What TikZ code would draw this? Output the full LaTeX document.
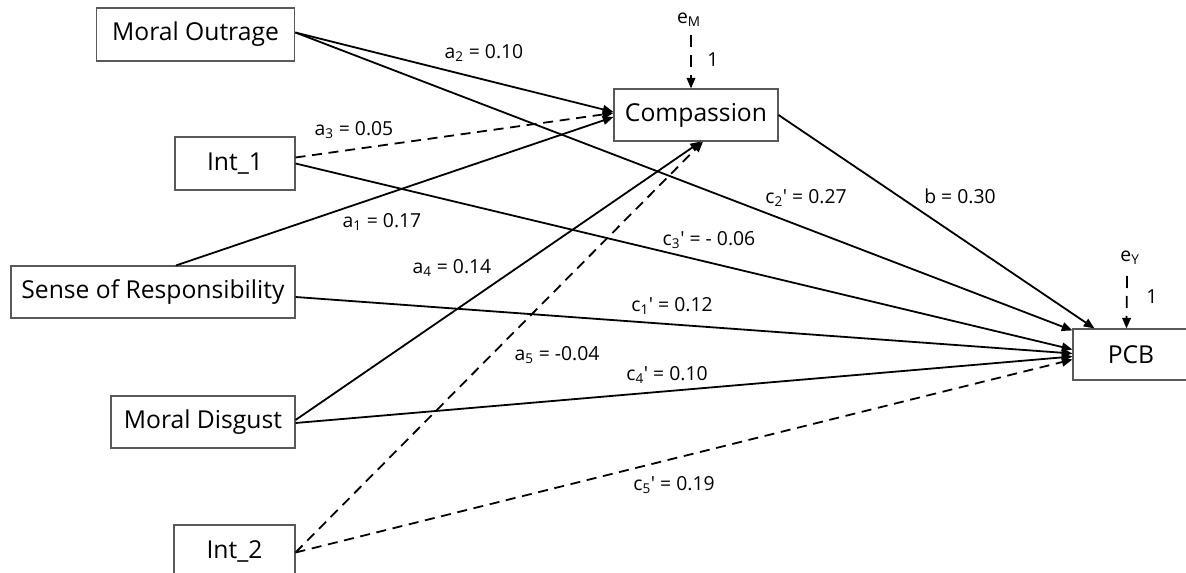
\documentclass[tikz,border=0pt]{standalone}
\usepackage{fontspec}
\setmainfont{Open Sans}[Ligatures=TeXOff]
\usetikzlibrary{arrows.meta,calc}
\tikzset{
  var/.style={draw=black!65, line width=0.8pt, fill=white, inner sep=0pt, font=\fontsize{18.5}{20}\selectfont},
  path/.style={line width=1.35pt, -{Triangle[length=8pt,width=6.5pt]}},
  dpath/.style={path, dash pattern=on 7.5pt off 5pt},
  lab/.style={font=\fontsize{14.5}{16}\selectfont, inner sep=0pt},
}
\newcommand{\sbs}[1]{\textsubscript{#1}}
\newcommand{\prm}{'}
\begin{document}
\begin{tikzpicture}[x=0.75pt,y=-0.75pt]
\clip (0,0) rectangle (1186,573);
\fill[white] (0,0) rectangle (1186,573);
% nodes
\node[var, minimum width=149pt, minimum height=39.75pt] (mo) at (195.5,34.5) {Moral Outrage};
\node[var, minimum width=90pt, minimum height=39.75pt] (i1) at (235,163.5) {Int\_1};
\node[var, minimum width=213pt, minimum height=39pt] (sr) at (153,292) {Sense of Responsibility};
\node[var, minimum width=138pt, minimum height=39pt] (md) at (203,422) {Moral Disgust};
\node[var, minimum width=90.75pt, minimum height=39.75pt] (i2) at (234.5,551.5) {Int\_2};
\node[var, minimum width=123pt, minimum height=39pt] (cp) at (696,115) {Compassion};
\node[var, minimum width=87pt, minimum height=38.25pt] (pcb) at (1131,354.5) {PCB};
% error terms
\node[lab] (em) at (689,20) {e\sbs{M}};
\node[lab] (ey) at (1130,258) {e\sbs{Y}};
\coordinate (emb) at (691,35);
\coordinate (eyb) at (1127,276);
\draw[dpath, dash pattern=on 9pt off 6pt] (emb) -- ($(cp.north)+(-5,0)$);
\draw[dpath, dash pattern=on 9pt off 6pt] (eyb) -- ($(pcb.north west)+(54,0)$);
\node[lab] (em1) at (713,60) {1};
\node[lab] (ey1) at (1152,297) {1};
% paths to Compassion
\draw[path] ($(mo.east)+(0,-2)$) -- ($(cp.west)+(0,-3)$);
\draw[dpath] ($(i1.east)+(0,-6)$) -- ($(cp.west)+(0,-2)$);
\draw[path] ($(sr.north)+(23,0)$) -- ($(cp.west)+(0,2)$);
\draw[path] ($(md.east)+(0,-2)$) -- ($(cp.south)+(5,0)$);
\draw[dpath] ($(i2.east)+(0,1)$) -- ($(cp.south)+(7,0)$);
% paths to PCB
\draw[path] (cp.east) -- ($(pcb.north west)+(22,0)$);
\draw[path] ($(mo.east)+(0,-2)$) -- ($(pcb.north west)+(0,2)$);
\draw[path] ($(i1.east)+(0,0)$) -- ($(pcb.west)+(0,-5)$);
\draw[path] ($(sr.east)+(0,5)$) -- ($(pcb.west)+(0,-1)$);
\draw[path] ($(md.east)+(0,1)$) -- ($(pcb.west)+(0,2)$);
\draw[dpath] ($(i2.east)+(0,1)$) -- ($(pcb.west)+(0,5)$);
% labels
\node[lab] (la2) at (484,53) {a\sbs{2} = 0.10};
\node[lab] (la3) at (354,130) {a\sbs{3} = 0.05};
\node[lab] (la1) at (382,222) {a\sbs{1} = 0.17};
\node[lab] (lc2) at (806,198) {c\sbs{2}\prm\ = 0.27};
\node[lab] (lb) at (960,196) {b = 0.30};
\node[lab] (lc3) at (709,240) {c\sbs{3}\prm\ = - 0.06};
\node[lab] (la4) at (452,268) {a\sbs{4} = 0.14};
\node[lab] (lc1) at (672,306) {c\sbs{1}\prm\ = 0.12};
\node[lab] (la5) at (557,355) {a\sbs{5} = -0.04};
\node[lab] (lc4) at (667,375) {c\sbs{4}\prm\ = 0.10};
\node[lab] (lc5) at (674,485) {c\sbs{5}\prm\ = 0.19};
\end{tikzpicture}
\end{document}
